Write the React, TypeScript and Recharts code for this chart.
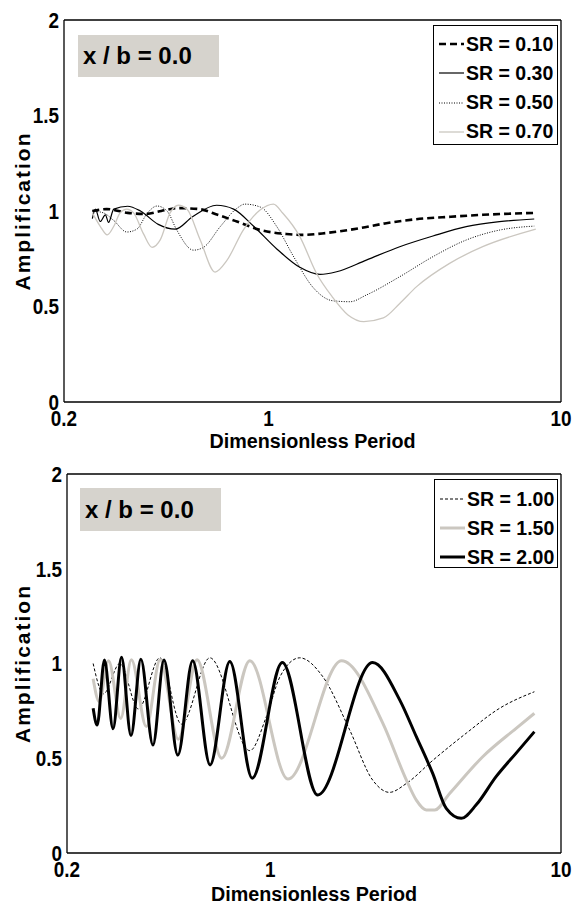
import React from 'react';
import { LineChart, Line, XAxis, YAxis, Label } from 'recharts';

const FONT = "'Liberation Sans', Arial, Helvetica, sans-serif";

// axis ticks
const xMajorTicks = [0.2, 1, 10];
const xMinorTicks = [0.3, 0.4, 0.5, 0.6, 0.7, 0.8, 0.9, 2, 3, 4, 5, 6, 7, 8, 9];
const yTicks = [0, 0.5, 1, 1.5, 2];

// top panel, SR = 0.10 ... 0.70
const sr010P = [0.25, 0.28, 0.33, 0.38, 0.43, 0.49, 0.58, 0.67, 0.78, 0.94, 1.15, 1.32, 1.58, 2.05, 2.5, 3.2, 4.2, 5.4, 8.1];
const sr010A = [1.0, 1.01, 0.99, 0.985, 1.0, 1.015, 1.01, 0.98, 0.945, 0.9, 0.88, 0.875, 0.885, 0.91, 0.935, 0.957, 0.97, 0.98, 0.99];

const sr030P = [0.25, 0.256, 0.266, 0.277, 0.284, 0.296, 0.33, 0.365, 0.42, 0.48, 0.55, 0.665, 0.76, 0.89, 1.07, 1.28, 1.5, 1.71, 2.16, 2.81, 3.65, 4.74, 6.16, 8.1];
const sr030A = [0.96, 1.01, 0.945, 0.98, 0.94, 1.01, 1.025, 1.0, 0.93, 0.905, 0.97, 1.03, 1.01, 0.92, 0.8, 0.705, 0.668, 0.682, 0.743, 0.813, 0.869, 0.918, 0.944, 0.958];

const sr050P = [0.25, 0.273, 0.296, 0.328, 0.355, 0.385, 0.416, 0.45, 0.486, 0.554, 0.6, 0.684, 0.78, 0.83, 0.94, 1.066, 1.22, 1.42, 1.66, 1.9, 2.16, 2.81, 3.65, 4.74, 6.16, 8.1];
const sr050A = [1.0, 0.99, 0.95, 0.89, 0.905, 0.988, 1.026, 1.0, 0.9, 0.795, 0.81, 0.918, 1.014, 1.036, 1.02, 0.92, 0.76, 0.6, 0.53, 0.525, 0.56, 0.656, 0.761, 0.848, 0.9, 0.921];

const sr070P = [0.25, 0.266, 0.281, 0.296, 0.311, 0.328, 0.346, 0.374, 0.4, 0.427, 0.461, 0.492, 0.526, 0.584, 0.657, 0.72, 0.82, 0.936, 1.04, 1.12, 1.28, 1.46, 1.65, 1.87, 2.12, 2.47, 2.81, 3.21, 4.16, 5.4, 8.2];
const sr070A = [0.99, 0.92, 0.875, 0.92, 0.99, 1.01, 0.99, 0.88, 0.81, 0.85, 0.99, 1.03, 1.01, 0.85, 0.68, 0.74, 0.9, 1.005, 1.036, 0.988, 0.866, 0.673, 0.552, 0.456, 0.421, 0.44, 0.516, 0.604, 0.726, 0.813, 0.905];

// bottom panel, SR = 1.00 ... 2.00
const sr100P = [0.246, 0.267, 0.304, 0.352, 0.417, 0.495, 0.62, 0.851, 0.97, 1.08, 1.263, 1.517, 1.875, 2.25, 2.57, 2.94, 3.63, 4.72, 6.14, 8.1];
const sr100A = [1.0, 0.84, 1.0, 0.76, 1.03, 0.68, 1.03, 0.54, 0.72, 0.93, 1.03, 0.93, 0.65, 0.385, 0.32, 0.367, 0.49, 0.632, 0.763, 0.851];

const sr150P = [0.246, 0.258, 0.278, 0.306, 0.333, 0.375, 0.418, 0.483, 0.56, 0.681, 0.851, 1.151, 1.76, 2.44, 2.94, 3.18, 3.44, 3.68, 4.14, 5.38, 7.01, 8.1];
const sr150A = [0.92, 0.8, 1.015, 0.71, 1.02, 0.667, 1.02, 0.6, 1.02, 0.5, 1.015, 0.39, 1.015, 0.684, 0.385, 0.279, 0.227, 0.227, 0.314, 0.508, 0.658, 0.737];

const sr200P = [0.246, 0.254, 0.269, 0.288, 0.308, 0.332, 0.359, 0.395, 0.431, 0.481, 0.541, 0.621, 0.726, 0.867, 1.1, 1.456, 2.25, 2.79, 3.18, 3.62, 4.03, 4.54, 5.11, 5.98, 7.01, 8.1];
const sr200A = [0.764, 0.675, 1.018, 0.656, 1.033, 0.62, 1.022, 0.57, 1.018, 0.517, 1.015, 0.465, 1.01, 0.395, 1.005, 0.306, 1.005, 0.807, 0.614, 0.42, 0.236, 0.183, 0.254, 0.403, 0.527, 0.64];

const toPoints = (p: number[], a: number[]) => p.map((v, i) => ({ p: v, a: a[i] }));

interface Series {
  name: string;
  data: { p: number; a: number }[];
  stroke: string;
  width: number;
  dash?: string;
}

const GRAY = '#cbc7c0';

const topSeries: Series[] = [
  { name: 'SR = 0.10', data: toPoints(sr010P, sr010A), stroke: '#000', width: 2.6, dash: '7 4' },
  { name: 'SR = 0.30', data: toPoints(sr030P, sr030A), stroke: '#000', width: 1.2 },
  { name: 'SR = 0.50', data: toPoints(sr050P, sr050A), stroke: '#000', width: 1, dash: '1 1.5' },
  { name: 'SR = 0.70', data: toPoints(sr070P, sr070A), stroke: GRAY, width: 1.3 },
];

const bottomSeries: Series[] = [
  { name: 'SR = 1.00', data: toPoints(sr100P, sr100A), stroke: '#000', width: 1, dash: '3 2' },
  { name: 'SR = 1.50', data: toPoints(sr150P, sr150A), stroke: GRAY, width: 3 },
  { name: 'SR = 2.00', data: toPoints(sr200P, sr200A), stroke: '#000', width: 3 },
];

interface PanelProps {
  top: number;
  height: number;
  plotTop: number;
  plotBottom: number;
  plotLeft: number;
  plotRight: number;
  series: Series[];
  legend: { left: number; top: number; width: number; height: number; first: number; gap: number };
  tag: { left: number; top: number; width: number; height: number };
}

// narrow bold text (Helvetica-Narrow look), squeezed horizontally
const NarrowText = ({ x, y, anchor, dy, size, sx, children }: any) => (
  <g transform={`translate(${x},${y}) scale(${sx},1)`}>
    <text x={0} y={0} dy={dy} textAnchor={anchor} fontFamily={FONT} fontWeight={700} fontSize={size} fill="#000">
      {children}
    </text>
  </g>
);

const XTick = ({ x, y, payload }: any) => (
  <NarrowText x={x} y={y} anchor="middle" dy="0.71em" size={22} sx={0.86}>{payload.value}</NarrowText>
);
const YTick = ({ x, y, payload }: any) => (
  <NarrowText x={x} y={y} anchor="end" dy="0.36em" size={22} sx={0.86}>{payload.value}</NarrowText>
);

const frame = { stroke: '#000', strokeWidth: 1.3 };

const Panel: React.FC<PanelProps> = ({ top, height, plotTop, plotBottom, plotLeft, plotRight, series, legend, tag }) => {
  const xAxisHeight = height - plotBottom;
  const common = { dataKey: 'p', type: 'number' as const, scale: 'log' as const, domain: [0.2, 10], allowDataOverflow: true };
  return (
    <div style={{ position: 'absolute', left: 0, top, width: 573, height }}>
      <LineChart width={573} height={height} margin={{ top: plotTop, right: 573 - plotRight, left: 0, bottom: 0 }}>
        <XAxis xAxisId="x" {...common} ticks={xMajorTicks} interval={0} height={xAxisHeight}
          tickLine={false} tickSize={0} tickMargin={8} axisLine={frame} tick={<XTick />}>
          <Label content={({ viewBox }: any) => (
            <NarrowText x={viewBox.x + viewBox.width / 2} y={viewBox.y + viewBox.height - 4} anchor="middle" dy={0} size={21} sx={0.94}>
              Dimensionless Period
            </NarrowText>
          )} />
        </XAxis>
        <XAxis xAxisId="xb" {...common} mirror ticks={xMinorTicks} interval={0} tick={false} axisLine={false}
          tickSize={4} tickLine={{ stroke: '#000' }} />
        <XAxis xAxisId="xbm" {...common} mirror ticks={[1]} tick={false} axisLine={false}
          tickSize={8} tickLine={{ stroke: '#000' }} />
        <XAxis xAxisId="xt" {...common} orientation="top" mirror ticks={xMinorTicks} interval={0} tick={false}
          axisLine={frame} tickSize={4} tickLine={{ stroke: '#000' }} />
        <XAxis xAxisId="xtm" {...common} orientation="top" mirror ticks={[1]} tick={false} axisLine={false}
          tickSize={8} tickLine={{ stroke: '#000' }} />
        <YAxis yAxisId="y" type="number" domain={[0, 2]} ticks={yTicks} interval={0} width={plotLeft}
          tickLine={false} tickSize={0} tickMargin={5} axisLine={frame} tick={<YTick />}>
          <Label content={({ viewBox }: any) => {
            const cx = 22;
            const cy = viewBox.y + viewBox.height / 2;
            return (
              <text x={cx} y={cy} transform={`rotate(-90, ${cx}, ${cy})`} textAnchor="middle" dominantBaseline="central"
                fontFamily={FONT} fontWeight={700} fontSize={21} letterSpacing={2} fill="#000">Amplification</text>
            );
          }} />
        </YAxis>
        <YAxis yAxisId="yl" type="number" domain={[0, 2]} ticks={yTicks} mirror tick={false} axisLine={false}
          tickSize={6} tickLine={{ stroke: '#000' }} />
        <YAxis yAxisId="yr" type="number" domain={[0, 2]} ticks={yTicks} orientation="right" mirror tick={false}
          axisLine={frame} tickSize={6} tickLine={{ stroke: '#000' }} />
        {series.map((s) => (
          <Line key={s.name} xAxisId="x" yAxisId="y" data={s.data} dataKey="a" name={s.name} type="monotone"
            stroke={s.stroke} strokeWidth={s.width} strokeDasharray={s.dash} dot={false} isAnimationActive={false} />
        ))}
      </LineChart>

      {/* x / b tag */}
      <div style={{
        position: 'absolute', left: tag.left, top: tag.top, width: tag.width, height: tag.height,
        background: '#d6d3cd', fontFamily: FONT, fontWeight: 700, fontSize: 24, lineHeight: `${tag.height}px`,
        paddingLeft: 5, boxSizing: 'border-box', color: '#000', whiteSpace: 'nowrap',
      }}>x / b = 0.0</div>

      {/* legend */}
      <div style={{
        position: 'absolute', left: legend.left, top: legend.top, width: legend.width, height: legend.height,
        border: '1.5px solid #000', background: '#fff', boxSizing: 'border-box',
      }}>
        {series.map((s, i) => (
          <div key={s.name} style={{
            position: 'absolute', left: 5, top: legend.first + i * legend.gap - 12, height: 24,
            display: 'flex', alignItems: 'center', whiteSpace: 'nowrap',
          }}>
            <svg width={26} height={10}>
              <line x1={0} y1={5} x2={25} y2={5} stroke={s.stroke} strokeWidth={s.width} strokeDasharray={s.dash} />
            </svg>
            <span style={{ fontFamily: FONT, fontWeight: 700, fontSize: 19.5, color: '#000', marginLeft: 1 }}>{s.name}</span>
          </div>
        ))}
      </div>
    </div>
  );
};

export default function App() {
  return (
    <div style={{ position: 'absolute', left: 0, top: 0, width: 573, height: 905, background: '#fff' }}>
      <Panel top={0} height={452} plotTop={20} plotBottom={402} plotLeft={64} plotRight={561}
        series={topSeries}
        legend={{ left: 433, top: 25, width: 125, height: 120, first: 18, gap: 29.3 }}
        tag={{ left: 78, top: 35, width: 141, height: 42 }} />
      <Panel top={452} height={453} plotTop={22} plotBottom={401} plotLeft={67} plotRight={561}
        series={bottomSeries}
        legend={{ left: 434, top: 27, width: 124, height: 89, first: 19, gap: 29 }}
        tag={{ left: 80, top: 36, width: 141, height: 43 }} />
    </div>
  );
}
